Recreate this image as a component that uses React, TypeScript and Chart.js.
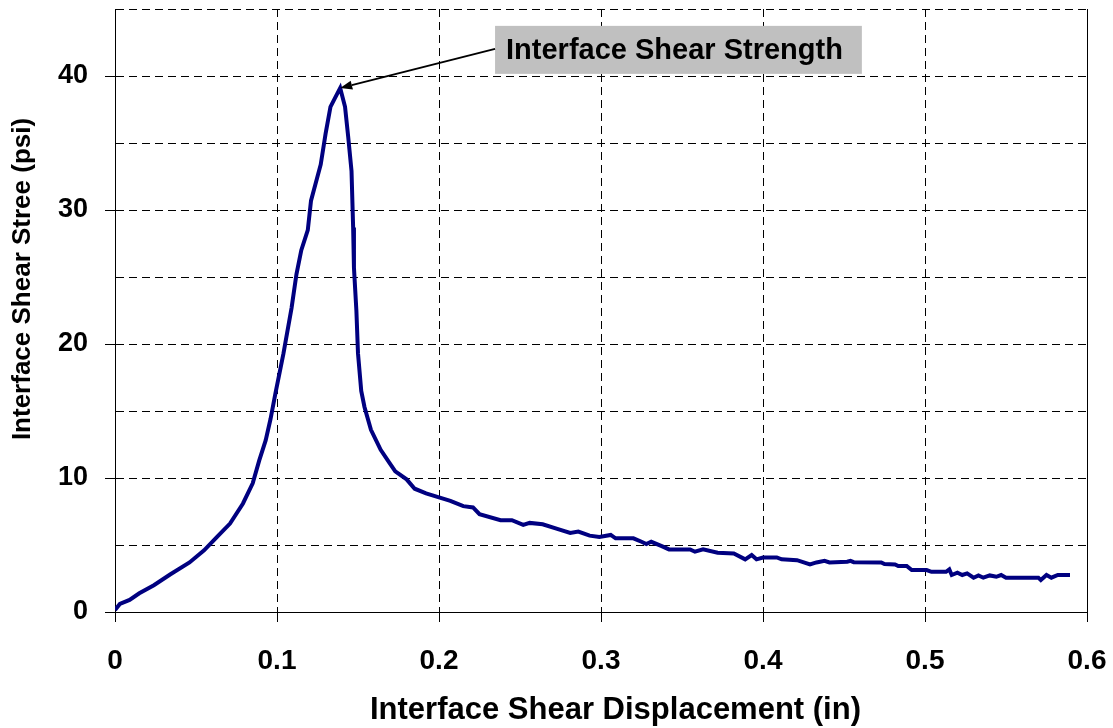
import React, { useEffect, useRef } from "react";
import { Chart, registerables } from "chart.js";

Chart.register(...registerables);

// ---- Data ----
const displacement = [
  0.0, 0.003, 0.009, 0.015, 0.024, 0.034, 0.046, 0.055, 0.063, 0.071,
  0.079, 0.085, 0.089, 0.093, 0.096, 0.099, 0.104, 0.109, 0.112, 0.115,
  0.119, 0.121, 0.127, 0.13, 0.133, 0.136, 0.139, 0.142, 0.144, 0.146,
  0.147, 0.1475, 0.149, 0.15, 0.152, 0.154, 0.158, 0.164, 0.169, 0.173,
  0.18, 0.185, 0.192, 0.2, 0.207, 0.215, 0.221, 0.225, 0.238, 0.245,
  0.252, 0.256, 0.264, 0.273, 0.281, 0.286, 0.293, 0.299, 0.306, 0.309,
  0.32, 0.325, 0.328, 0.331, 0.3375, 0.342, 0.355, 0.358, 0.363, 0.372,
  0.382, 0.389, 0.393, 0.396, 0.4, 0.4085, 0.4115, 0.421, 0.429, 0.433,
  0.438, 0.441, 0.452, 0.454, 0.456, 0.473, 0.475, 0.4815, 0.4835, 0.4887,
  0.4918, 0.501, 0.504, 0.513, 0.515, 0.5165, 0.52, 0.523, 0.526, 0.53,
  0.533, 0.536, 0.54, 0.544, 0.547, 0.55, 0.561, 0.57, 0.5715, 0.575,
  0.578, 0.582, 0.5895,
];
const shearStress = [
  0.15, 0.6, 0.9, 1.4, 2.0, 2.8, 3.7, 4.6, 5.6, 6.6,
  8.1, 9.6, 11.3, 12.8, 14.4, 16.3, 19.3, 22.7, 25.2, 27.0,
  28.5, 30.7, 33.4, 35.7, 37.7, 38.4, 39.1, 37.7, 35.4, 32.9,
  28.7, 25.7, 22.5, 19.3, 16.5, 15.3, 13.6, 12.1, 11.2, 10.5,
  9.9, 9.2, 8.85, 8.55, 8.3, 7.9, 7.8, 7.3, 6.85, 6.85,
  6.5, 6.65, 6.55, 6.2, 5.9, 6.0, 5.7, 5.6, 5.75, 5.5,
  5.5, 5.24, 5.07, 5.24, 4.92, 4.67, 4.67, 4.5, 4.67, 4.42,
  4.37, 3.93, 4.25, 3.93, 4.07, 4.07, 3.93, 3.87, 3.55, 3.7,
  3.82, 3.7, 3.75, 3.82, 3.72, 3.7, 3.58, 3.55, 3.43, 3.43,
  3.13, 3.13, 3.0, 3.0, 3.18, 2.76, 2.93, 2.76, 2.88, 2.56,
  2.73, 2.56, 2.73, 2.63, 2.76, 2.56, 2.56, 2.56, 2.38, 2.76,
  2.56, 2.76, 2.76,
];

const xTickValues = [0, 0.1, 0.2, 0.3, 0.4, 0.5, 0.6];
const yGridValues = [0, 5, 10, 15, 20, 25, 30, 35, 40, 45];
const yLabelValues = [0, 10, 20, 30, 40];

const X_TITLE = "Interface Shear Displacement (in)";
const Y_TITLE = "Interface Shear Stree (psi)";
const ANNOTATION_TEXT = "Interface Shear Strength";
const ANNOTATION_X = 0.2346; // data x of callout box left edge
const ANNOTATION_Y = 41.95; // data y of callout box centre

const FONT = "'Liberation Sans', Arial, Helvetica, sans-serif";

const overlayPlugin = {
  id: "overlay",
  afterDraw(chart: any) {
    const { ctx, chartArea } = chart;
    const xs = chart.scales.x;
    const ys = chart.scales.y;
    ctx.save();

    // solid right frame
    const rx = Math.round(xs.getPixelForValue(0.6)) + 0.5;
    ctx.setLineDash([]);
    ctx.strokeStyle = "#000";
    ctx.lineWidth = 1;
    ctx.beginPath();
    ctx.moveTo(rx, chartArea.top);
    ctx.lineTo(rx, chartArea.bottom);
    ctx.stroke();

    // callout
    let peakIdx = 0;
    shearStress.forEach((v, i) => {
      if (v > shearStress[peakIdx]) peakIdx = i;
    });
    const px = xs.getPixelForValue(displacement[peakIdx]);
    const py = ys.getPixelForValue(shearStress[peakIdx]);

    ctx.font = `bold 29px ${FONT}`;
    const tw = ctx.measureText(ANNOTATION_TEXT).width;
    const bx = xs.getPixelForValue(ANNOTATION_X);
    const by = ys.getPixelForValue(ANNOTATION_Y);
    const bw = tw + 30;
    const bh = 48;
    ctx.fillStyle = "#C0C0C0";
    ctx.fillRect(bx, by - bh / 2, bw, bh);
    ctx.fillStyle = "#000";
    ctx.textAlign = "left";
    ctx.textBaseline = "middle";
    ctx.fillText(ANNOTATION_TEXT, bx + 11, by + 1);

    // arrow
    const sx = bx;
    const sy = by - 1;
    const ang = Math.atan2(py - sy, px - sx);
    const headLen = 12;
    const headW = 4.5;
    const hx = px - Math.cos(ang) * headLen;
    const hy = py - Math.sin(ang) * headLen;
    ctx.strokeStyle = "#000";
    ctx.lineWidth = 2;
    ctx.beginPath();
    ctx.moveTo(sx, sy);
    ctx.lineTo(hx, hy);
    ctx.stroke();
    ctx.beginPath();
    ctx.moveTo(px, py);
    ctx.lineTo(hx + Math.sin(ang) * headW, hy - Math.cos(ang) * headW);
    ctx.lineTo(hx - Math.sin(ang) * headW, hy + Math.cos(ang) * headW);
    ctx.closePath();
    ctx.fill();

    // axis titles
    ctx.fillStyle = "#000";
    ctx.font = `bold 31px ${FONT}`;
    ctx.textAlign = "left";
    ctx.textBaseline = "alphabetic";
    ctx.fillText(X_TITLE, 370, 719);

    ctx.save();
    ctx.translate(30, 279);
    ctx.rotate(-Math.PI / 2);
    ctx.font = `bold 26px ${FONT}`;
    ctx.textAlign = "center";
    ctx.textBaseline = "alphabetic";
    ctx.fillText(Y_TITLE, 0, 0);
    ctx.restore();

    ctx.restore();
  },
};

export default function App() {
  const canvasRef = useRef<HTMLCanvasElement | null>(null);

  useEffect(() => {
    if (!canvasRef.current) return;
    const points = displacement.map((x, i) => ({ x, y: shearStress[i] }));
    const chart = new Chart(canvasRef.current, {
      type: "line",
      data: {
        datasets: [
          {
            label: "Interface shear stress",
            data: points,
            borderColor: "#000080",
            borderWidth: 4,
            pointRadius: 0,
            fill: false,
            tension: 0,
          },
        ],
      },
      options: {
        animation: false,
        responsive: true,
        maintainAspectRatio: false,
        parsing: true,
        layout: { padding: { left: 0, top: 9, right: 26, bottom: 0 } },
        plugins: {
          legend: { display: false },
          tooltip: { enabled: false },
          title: { display: false },
        },
        scales: {
          x: {
            type: "linear",
            min: 0,
            max: 0.6,
            afterBuildTicks: (s: any) => {
              s.ticks = xTickValues.map((v) => ({ value: v }));
            },
            afterFit: (s: any) => {
              s.height = 116;
              s.paddingLeft = 0;
              s.paddingRight = 0;
              s.paddingTop = 0;
              s.paddingBottom = 0;
            },
            ticks: {
              autoSkip: false,
              maxRotation: 0,
              color: "#000",
              padding: 22,
              font: { family: FONT, size: 28, weight: "bold" },
              callback: (v: any) => (Number(v) === 0 ? "0" : Number(v).toFixed(1)),
            },
            grid: {
              color: "#000",
              lineWidth: 1,
              drawTicks: true,
              tickLength: 10,
              tickColor: "#000",
            },
            border: { display: true, color: "#000", width: 1, dash: [8, 5] },
          },
          y: {
            type: "linear",
            min: 0,
            max: 45,
            afterBuildTicks: (s: any) => {
              s.ticks = yGridValues.map((v) => ({ value: v }));
            },
            afterFit: (s: any) => {
              s.width = 115;
              s.paddingLeft = 0;
              s.paddingRight = 0;
              s.paddingTop = 0;
              s.paddingBottom = 0;
            },
            ticks: {
              autoSkip: false,
              color: "#000",
              padding: 17,
              font: { family: FONT, size: 27, weight: "bold" },
              callback: (v: any) => (yLabelValues.includes(Number(v)) ? String(v) : ""),
            },
            grid: {
              color: "#000",
              lineWidth: 1,
              drawTicks: true,
              tickLength: 10,
              tickColor: (c: any) =>
                c.tick && yLabelValues.includes(c.tick.value) ? "#000" : "rgba(0,0,0,0)",
            },
            border: { display: true, color: "#000", width: 1, dash: [8, 5] },
          },
        },
      } as any,
      plugins: [overlayPlugin],
    });
    return () => chart.destroy();
  }, []);

  return (
    <div
      style={{
        position: "fixed",
        left: 0,
        top: 0,
        width: 1113,
        height: 728,
        background: "#fff",
      }}
    >
      <canvas ref={canvasRef} />
    </div>
  );
}
